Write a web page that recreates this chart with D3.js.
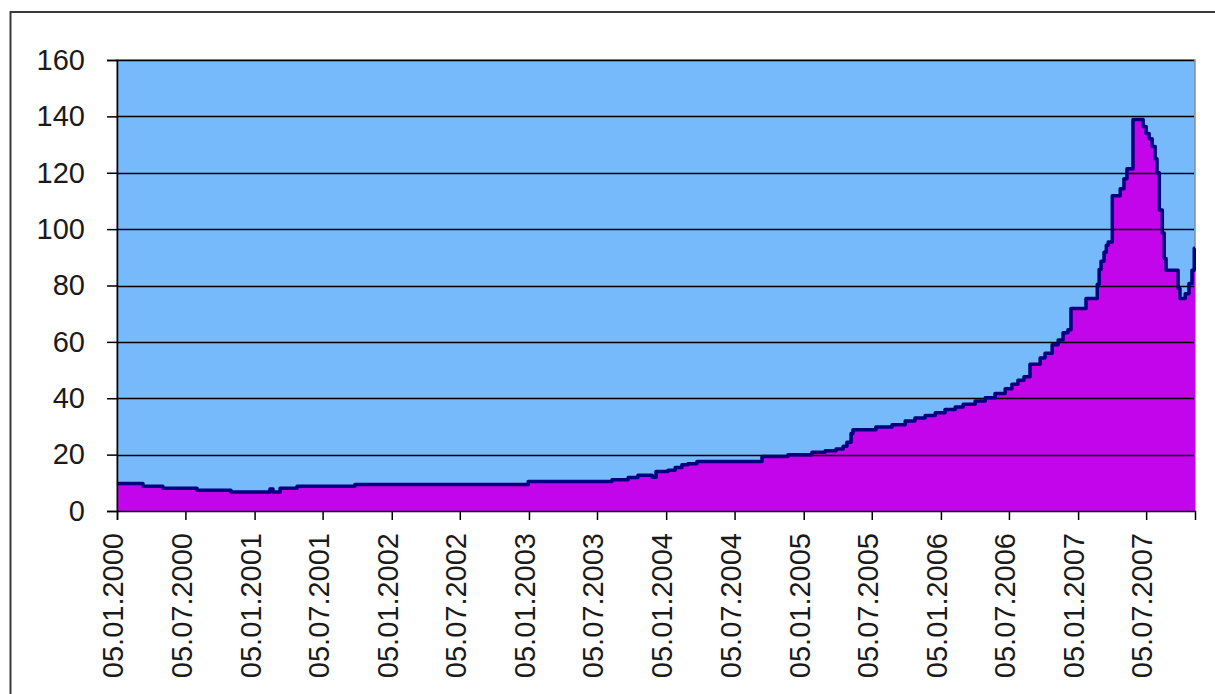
<!DOCTYPE html>
<html>
<head>
<meta charset="utf-8">
<script src="https://cdn.jsdelivr.net/npm/d3@7"></script>
<style>
  html, body { margin: 0; padding: 0; background: #ffffff; }
  svg { display: block; }
  text { font-family: "Liberation Sans", Arial, sans-serif; }
</style>
</head>
<body>
<svg id="chart" width="1215" height="694"></svg>
<script>
// ---- data ----
const dates = [
  "2000-01-05","2000-03-14","2000-05-06","2000-08-05","2000-11-03",
  "2001-02-15","2001-02-23","2001-03-14","2001-04-28","2001-09-29",
  "2003-01-03","2003-08-14","2003-09-26","2003-10-22","2003-11-29",
  "2003-12-09","2004-01-10","2004-01-29","2004-02-16","2004-03-03",
  "2004-03-27","2004-09-16","2004-11-24","2005-01-27","2005-03-03",
  "2005-04-01","2005-04-20","2005-04-30","2005-05-11","2005-05-16",
  "2005-07-16","2005-08-28","2005-10-02","2005-10-28","2005-11-24",
  "2005-12-21","2006-01-16","2006-02-12","2006-03-05","2006-04-06",
  "2006-05-03","2006-05-29","2006-06-25","2006-07-13","2006-07-29",
  "2006-08-14","2006-08-30","2006-09-26","2006-10-09","2006-10-28",
  "2006-11-13","2006-11-26","2006-12-09","2006-12-17","2007-01-26",
  "2007-02-25","2007-03-02","2007-03-07","2007-03-15","2007-03-21",
  "2007-03-26","2007-04-06","2007-04-27","2007-05-07","2007-05-15",
  "2007-05-31","2007-06-27","2007-07-05","2007-07-13","2007-07-21",
  "2007-07-29","2007-08-03","2007-08-09","2007-08-17","2007-08-22",
  "2007-08-27","2007-09-28","2007-10-03","2007-10-17","2007-10-27",
  "2007-11-04","2007-11-10","2007-11-12"
];
const values = [
  9.8, 8.8, 8.1, 7.4, 6.7,
  7.8, 6.7, 8.1, 8.8, 9.4,
  10.5, 11.1, 11.9, 12.7, 12.0,
  14.0, 14.5, 15.4, 16.4, 16.8,
  17.6, 19.3, 20.0, 20.8, 21.4,
  22.0, 23.0, 24.4, 27.5, 28.8,
  29.8, 30.6, 31.9, 33.0, 33.9,
  34.9, 36.0, 36.9, 37.9, 39.0,
  40.2, 41.7, 43.4, 45.0, 46.4,
  47.6, 52.1, 54.3, 56.0, 59.0,
  60.7, 63.2, 64.3, 71.8, 75.4,
  80.4, 85.7, 88.6, 91.8, 94.3,
  95.4, 111.8, 114.3, 117.9, 121.4,
  138.9, 136.4, 133.9, 132.1, 129.3,
  125.0, 120.0, 106.8, 98.6, 89.6,
  85.4, 78.9, 75.4, 77.1, 80.7,
  85.4, 93.2, 93.2
];
const yTicks = [0, 20, 40, 60, 80, 100, 120, 140, 160];
const xTickLabels = [
  "05.01.2000","05.07.2000","05.01.2001","05.07.2001","05.01.2002","05.07.2002",
  "05.01.2003","05.07.2003","05.01.2004","05.07.2004","05.01.2005","05.07.2005",
  "05.01.2006","05.07.2006","05.01.2007","05.07.2007"
];
const xDomain = ["2000-01-05", "2007-11-12"];

// ---- drawing ----
const parseISO = d3.timeParse("%Y-%m-%d");
const parseLbl = d3.timeParse("%d.%m.%Y");
const fmtLbl = d3.timeFormat("%d.%m.%Y");
const data = dates.map((d, i) => ({ date: parseISO(d), value: values[i] }));

const svg = d3.select("#chart");
const plot = { left: 117, right: 1195, top: 60, bottom: 511 };

const x = d3.scaleTime().domain(xDomain.map(parseISO)).range([plot.left, plot.right]);
const y = d3.scaleLinear().domain([0, 160]).range([plot.bottom, plot.top]);

// outer chart frame (extends beyond the visible window)
svg.append("rect")
  .attr("x", 10.5).attr("y", 12)
  .attr("width", 1240).attr("height", 720)
  .attr("fill", "#ffffff").attr("stroke", "#3a3a3a").attr("stroke-width", 2);

// plot area background
svg.append("rect")
  .attr("x", plot.left).attr("y", plot.top)
  .attr("width", plot.right - plot.left).attr("height", plot.bottom - plot.top)
  .attr("fill", "#76BAFB").attr("stroke", "#8a8a8a").attr("stroke-width", 1.5);

// area
const area = d3.area()
  .x(d => x(d.date)).y0(y(0)).y1(d => y(d.value))
  .curve(d3.curveStepAfter);
svg.append("path").datum(data)
  .attr("d", area).attr("fill", "#C305EC");

// gridlines
svg.append("g").selectAll("line").data(yTicks.filter(t => t > 0)).join("line")
  .attr("x1", plot.left).attr("x2", plot.right - 1)
  .attr("y1", d => Math.round(y(d)) + 0.5).attr("y2", d => Math.round(y(d)) + 0.5)
  .attr("stroke", "#000").attr("stroke-width", 1.3);

// data outline
const line = d3.line()
  .x(d => x(d.date)).y(d => y(d.value))
  .curve(d3.curveStepAfter);
svg.append("path").datum(data)
  .attr("d", line).attr("fill", "none")
  .attr("stroke", "#000080").attr("stroke-width", 3.5)
  .attr("stroke-linejoin", "round");

// y axis
const yAxis = d3.axisLeft(y).tickValues(yTicks).tickSize(10).tickPadding(22)
  .tickFormat(d3.format("d"));
const gy = svg.append("g").attr("transform", `translate(${plot.left},0)`).call(yAxis);
gy.select(".domain").attr("stroke", "#000").attr("stroke-width", 1.5);
gy.selectAll(".tick line").attr("stroke", "#000").attr("stroke-width", 1.5);
gy.selectAll("text").attr("font-size", 29).attr("fill", "#1a1a1a")
  .attr("font-family", '"Liberation Sans", Arial, sans-serif');

// x axis
const xAxis = d3.axisBottom(x).tickValues(xTickLabels.map(parseLbl)).tickSize(9)
  .tickFormat(fmtLbl);
const gx = svg.append("g").attr("transform", `translate(0,${plot.bottom})`).call(xAxis);
gx.select(".domain").attr("stroke", "#000").attr("stroke-width", 1.5);
gx.selectAll(".tick line").attr("stroke", "#000").attr("stroke-width", 1.5);
gx.selectAll("text")
  .attr("font-size", 29).attr("fill", "#1a1a1a")
  .attr("font-family", '"Liberation Sans", Arial, sans-serif')
  .attr("text-anchor", "end")
  .attr("transform", "rotate(-90)")
  .attr("x", -22).attr("y", 0).attr("dy", "0.2em");
</script>
</body>
</html>
